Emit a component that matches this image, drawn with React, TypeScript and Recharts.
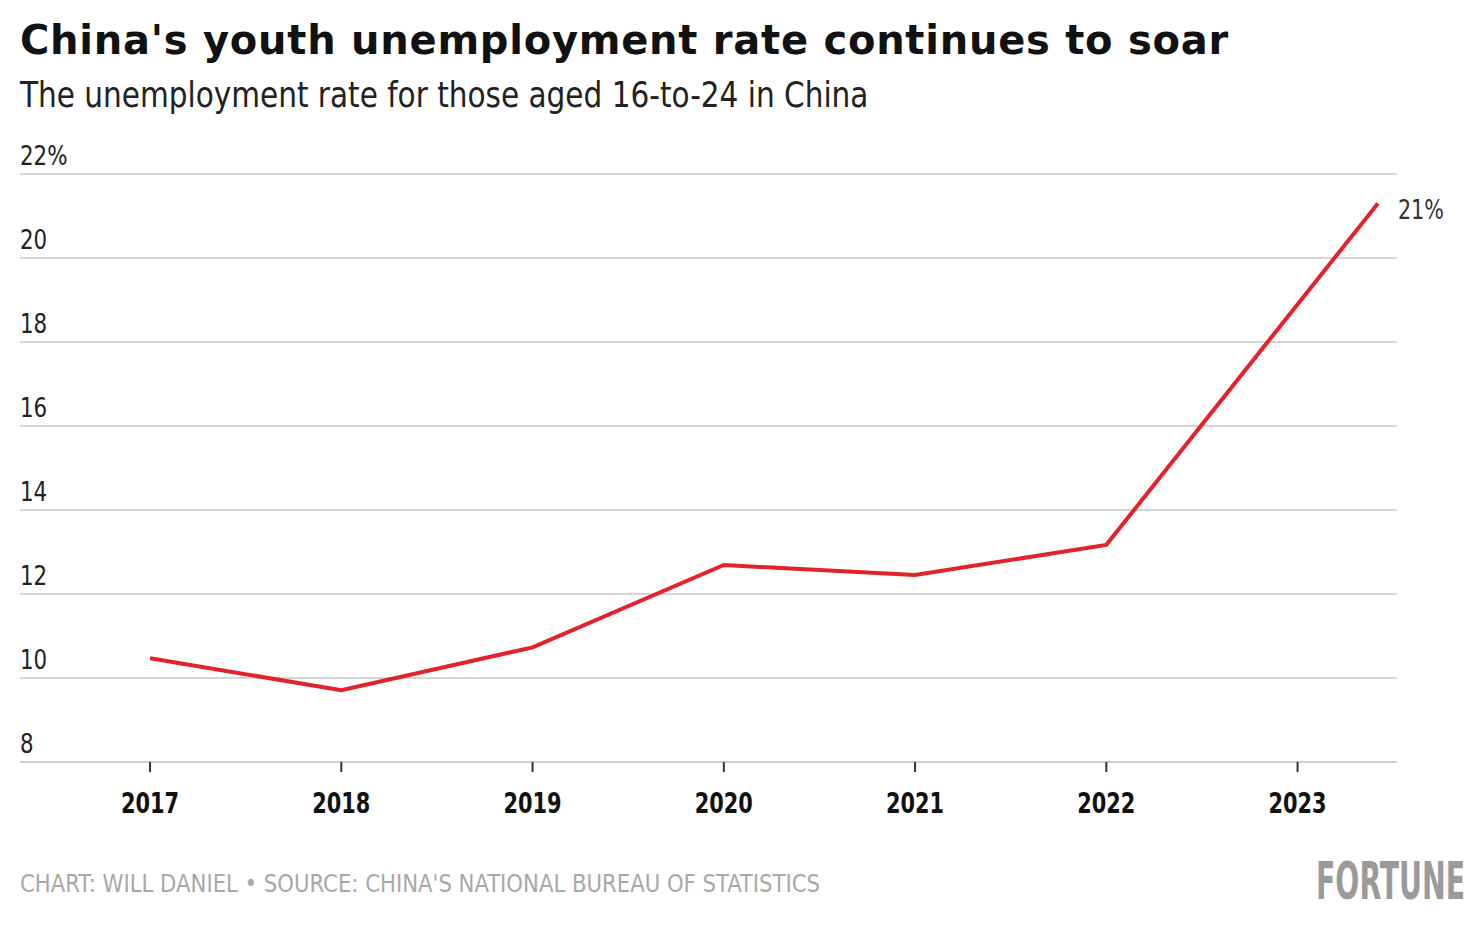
import React from "react";
import { LineChart, Line, XAxis, YAxis, CartesianGrid, LabelList } from "recharts";

const years = [2017, 2018, 2019, 2020, 2021, 2022, 2023.42];
const rates = [10.47, 9.71, 10.73, 12.69, 12.45, 13.17, 21.3];
const xTicks = [2017, 2018, 2019, 2020, 2021, 2022, 2023];
const yTicks = [8, 10, 12, 14, 16, 18, 20, 22];
const endLabel = "21%";

const data = years.map((y, i) => ({ year: y, rate: rates[i], label: i === years.length - 1 ? endLabel : "" }));

const NARROW = "'DejaVu Sans Condensed', 'Liberation Sans Narrow', 'Roboto', sans-serif";

const YTick = (props: any) => {
  const { y, payload } = props;
  const v = payload.value;
  return (
    <text
      transform={`translate(12, ${y - 9}) scale(0.88, 1)`}
      textAnchor="start"
      fontFamily={NARROW}
      fontSize={27}
      fill="#222"
    >
      {v === 22 ? "22%" : String(v)}
    </text>
  );
};

const XTick = (props: any) => {
  const { x, y, payload } = props;
  return (
    <text
      transform={`translate(${x}, ${y + 39}) scale(0.8, 1)`}
      textAnchor="middle"
      fontFamily={NARROW}
      fontWeight="bold"
      fontSize={29}
      fill="#111"
    >
      {String(payload.value)}
    </text>
  );
};

const EndLabel = (props: any) => {
  const { x, y, value } = props;
  if (!value) return null;
  return (
    <text
      transform={`translate(${x + 20}, ${y + 16}) scale(0.85, 1)`}
      textAnchor="start"
      fontFamily={NARROW}
      fontSize={27}
      fill="#333"
    >
      {value}
    </text>
  );
};

export default function App() {
  return (
    <div style={{ position: "relative", width: 1460, height: 924, background: "#fff" }}>
      <div
        style={{
          position: "absolute",
          left: 12,
          top: 8,
          fontFamily: "'DejaVu Sans', sans-serif",
          fontWeight: 900,
          fontSize: 40,
          lineHeight: "48px",
          letterSpacing: 0.75,
          color: "#111",
          whiteSpace: "nowrap",
        }}
      >
        China's youth unemployment rate continues to soar
      </div>
      <div
        style={{
          position: "absolute",
          left: 12,
          top: 66,
          fontFamily: NARROW,
          fontSize: 35,
          lineHeight: "42px",
          color: "#222",
          whiteSpace: "nowrap",
          transform: "scaleX(0.938)",
          transformOrigin: "0 0",
        }}
      >
        The unemployment rate for those aged 16-to-24 in China
      </div>
      <div style={{ position: "absolute", left: 0, top: 0 }}>
        <LineChart width={1460} height={830} data={data} margin={{ top: 166, right: 71, bottom: 16, left: 11 }}>
          <CartesianGrid vertical={false} stroke="#d6d6d6" strokeWidth={2} />
          <XAxis
            dataKey="year"
            type="number"
            domain={[2016.32, 2023.52]}
            ticks={xTicks}
            interval={0}
            axisLine={{ stroke: "#cfcfcf", strokeWidth: 2 }}
            tickLine={{ stroke: "#333", strokeWidth: 2 }}
            tickSize={10}
            tick={<XTick />}
            height={60}
          />
          <YAxis
            type="number"
            domain={[8, 22]}
            ticks={yTicks}
            interval={0}
            width={1}
            axisLine={false}
            tickLine={false}
            tick={<YTick />}
          />
          <Line
            type="linear"
            dataKey="rate"
            stroke="#e3222b"
            strokeWidth={4}
            dot={false}
            isAnimationActive={false}
          >
            <LabelList dataKey="label" content={<EndLabel />} />
          </Line>
        </LineChart>
      </div>
      <div
        style={{
          position: "absolute",
          left: 12,
          top: 861,
          fontFamily: NARROW,
          fontSize: 25,
          lineHeight: "30px",
          color: "#a8a8a8",
          whiteSpace: "nowrap",
          transform: "scaleX(0.943)",
          transformOrigin: "0 0",
        }}
      >
        CHART: WILL DANIEL • SOURCE: CHINA'S NATIONAL BUREAU OF STATISTICS
      </div>
      <div
        style={{
          position: "absolute",
          left: 1308,
          top: 843,
          fontFamily: NARROW,
          fontWeight: "bold",
          fontSize: 52,
          lineHeight: "60px",
          color: "#9a9a9a",
          whiteSpace: "nowrap",
          transform: "scaleX(0.605)",
          transformOrigin: "0 0",
        }}
      >
        FORTUNE
      </div>
    </div>
  );
}
